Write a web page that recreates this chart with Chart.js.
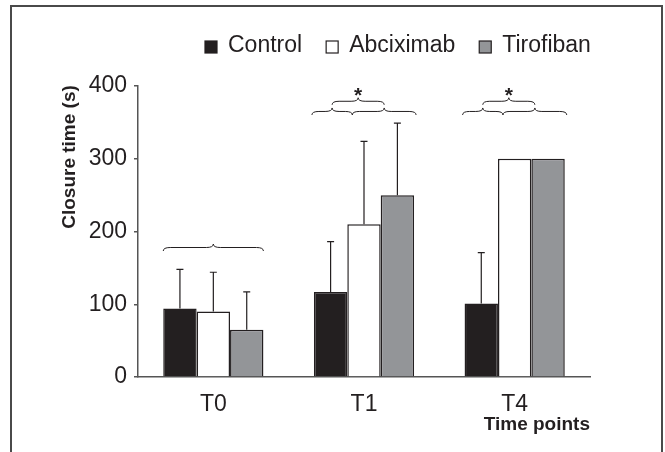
<!DOCTYPE html>
<html>
<head>
<meta charset="utf-8">
<script src="https://cdn.jsdelivr.net/npm/chart.js@4/dist/chart.umd.min.js"></script>
<style>
  html, body { margin: 0; padding: 0; background: #fff; }
  #wrap { width: 665px; height: 452px; }
</style>
</head>
<body>
<div id="wrap"><canvas id="closureChart" width="665" height="452"></canvas></div>
<script>
// time points and group means / SD (closure time, s)
const timePoints = ["T0", "T1", "T4"];
const groupNames = ["Control", "Abciximab", "Tirofiban"];
const controlMean = [94, 117, 101];
const abciximabMean = [90, 210, 300];
const tirofibanMean = [65, 250, 300];
const controlSD = [54, 69, 70];
const abciximabSD = [54, 114, 0];
const tirofibanSD = [52, 99, 0];
const yTicks = [0, 100, 200, 300, 400];
// which time points got the "*" brace pair
const significant = ["T1", "T4"];

const ink = "#231f20";
const axisGrey = "#555555";
const FONT = "'Liberation Sans', Arial, sans-serif";

// error bars (upper only, with a small cap)
const errorBars = {
  id: "errorBars",
  afterDatasetsDraw(chart) {
    const ctx = chart.ctx;
    const y = chart.scales.y;
    ctx.save();
    ctx.strokeStyle = ink;
    ctx.lineWidth = 1.2;
    chart.data.datasets.forEach((ds, i) => {
      const meta = chart.getDatasetMeta(i);
      meta.data.forEach((bar, j) => {
        const sd = ds.sd[j];
        if (!sd) return;
        const top = y.getPixelForValue(ds.data[j] + sd);
        ctx.beginPath();
        ctx.moveTo(bar.x, bar.y);
        ctx.lineTo(bar.x, top);
        ctx.moveTo(bar.x - 3.5, top);
        ctx.lineTo(bar.x + 3.5, top);
        ctx.stroke();
      });
    });
    ctx.restore();
  }
};

function brace(ctx, x1, x2, y, d) {
  const mid = (x1 + x2) / 2;
  ctx.beginPath();
  ctx.moveTo(x1, y + d);
  ctx.quadraticCurveTo(x1, y, x1 + d * 2, y);
  ctx.lineTo(mid - d * 2, y);
  ctx.quadraticCurveTo(mid, y, mid, y - d);
  ctx.quadraticCurveTo(mid, y, mid + d * 2, y);
  ctx.lineTo(x2 - d * 2, y);
  ctx.quadraticCurveTo(x2, y, x2, y + d);
  ctx.stroke();
}

// braces and asterisks above the groups
const braces = {
  id: "braces",
  afterDatasetsDraw(chart) {
    const ctx = chart.ctx;
    const y = chart.scales.y;
    const c = chart.getDatasetMeta(0).data;
    const a = chart.getDatasetMeta(1).data;
    const t = chart.getDatasetMeta(2).data;
    ctx.save();
    ctx.strokeStyle = ink;
    ctx.lineWidth = 1;
    timePoints.forEach((tp, j) => {
      const left = c[j].x - c[j].width / 2;
      const right = t[j].x + t[j].width / 2;
      if (significant.indexOf(tp) < 0) {
        brace(ctx, left, right, y.getPixelForValue(178), 3.5);
        return;
      }
      const split = a[j].x - a[j].width / 2 + 5;
      const low = y.getPixelForValue(365);
      brace(ctx, left - 2, split, low, 3.5);
      brace(ctx, split, right + 2, low, 3.5);
      const m1 = (left - 2 + split) / 2;
      const m2 = (split + right + 2) / 2;
      brace(ctx, m1, m2, y.getPixelForValue(379), 3.5);
      ctx.fillStyle = ink;
      ctx.font = "bold 21px " + FONT;
      ctx.textAlign = "center";
      ctx.textBaseline = "middle";
      ctx.fillText("*", (m1 + m2) / 2, y.getPixelForValue(393) + 5);
    });
    ctx.restore();
  }
};

// legend, axis titles and the frame
const decorations = {
  id: "decorations",
  afterDraw(chart) {
    const ctx = chart.ctx;
    ctx.save();
    // frame (open at the bottom)
    ctx.strokeStyle = "#4a4a4a";
    ctx.lineWidth = 2;
    ctx.beginPath();
    ctx.moveTo(11, 452);
    ctx.lineTo(11, 6);
    ctx.lineTo(662, 6);
    ctx.lineTo(662, 452);
    ctx.stroke();

    // legend
    ctx.font = "23px " + FONT;
    ctx.textBaseline = "middle";
    ctx.textAlign = "left";
    let x = 205;
    chart.data.datasets.forEach((ds) => {
      ctx.fillStyle = ds.backgroundColor;
      ctx.fillRect(x, 41, 12, 12);
      ctx.strokeStyle = ink;
      ctx.lineWidth = 1.2;
      ctx.strokeRect(x, 41, 12, 12);
      ctx.fillStyle = ink;
      ctx.fillText(ds.label, x + 23, 46);
      x += 23 + ctx.measureText(ds.label).width + 24;
    });

    // y title
    ctx.font = "bold 19px " + FONT;
    ctx.fillStyle = ink;
    ctx.translate(70, 157);
    ctx.rotate(-Math.PI / 2);
    ctx.textAlign = "center";
    ctx.fillText("Closure time (s)", 0, 0);
    ctx.setTransform(1, 0, 0, 1, 0, 0);

    // x title
    ctx.textAlign = "right";
    ctx.fillText("Time points", chart.chartArea.right, 425);
    ctx.restore();
  }
};

const ctx = document.getElementById("closureChart").getContext("2d");
const closureChart = new Chart(ctx, {
  type: "bar",
  data: {
    labels: timePoints,
    datasets: [
      { label: groupNames[0], data: controlMean, sd: controlSD, backgroundColor: ink },
      { label: groupNames[1], data: abciximabMean, sd: abciximabSD, backgroundColor: "#ffffff" },
      { label: groupNames[2], data: tirofibanMean, sd: tirofibanSD, backgroundColor: "#939598" }
    ].map((d) => Object.assign(d, {
      borderColor: ink,
      borderWidth: 1.5,
      barPercentage: 1,
      categoryPercentage: 0.665
    }))
  },
  options: {
    responsive: false,
    animation: false,
    layout: { padding: { left: 0, top: 86, right: 75, bottom: 0 } },
    plugins: { legend: { display: false }, tooltip: { enabled: false } },
    scales: {
      x: {
        grid: { display: false },
        border: { display: true, color: axisGrey, width: 1.5 },
        ticks: { color: ink, font: { family: FONT, size: 23 }, padding: 6 },
        afterFit: (s) => { s.height = 75; }
      },
      y: {
        min: 0,
        max: 400,
        afterBuildTicks: (s) => { s.ticks = yTicks.map((v) => ({ value: v })); },
        grid: { drawOnChartArea: false, tickLength: 4, color: axisGrey, lineWidth: 1.5 },
        border: { display: true, color: axisGrey, width: 1.5 },
        ticks: { color: ink, font: { family: FONT, size: 23 }, padding: 7 },
        afterFit: (s) => { s.width = 138; }
      }
    }
  },
  plugins: [errorBars, braces, decorations]
});
</script>
</body>
</html>
